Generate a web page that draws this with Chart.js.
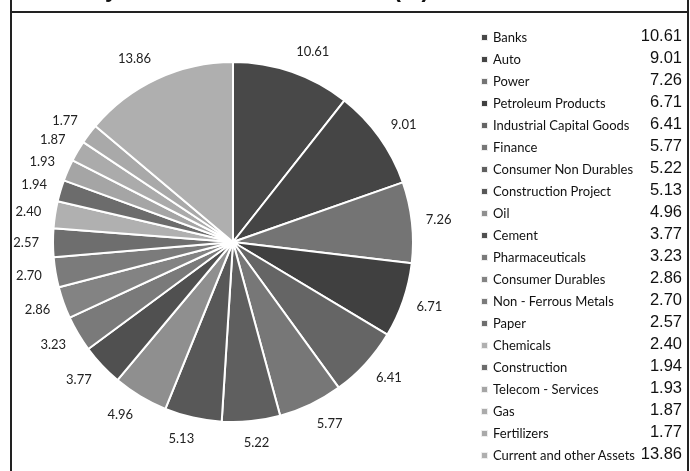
<!DOCTYPE html>
<html>
<head>
<meta charset="utf-8">
<script src="https://cdn.jsdelivr.net/npm/chart.js@4"></script>
<style>
  body { margin: 0; background: #fff; }
  #page { position: relative; width: 690px; height: 471px; overflow: hidden; }
  #chart { position: absolute; left: 0; top: 0; }
  .frame { position: absolute; left: 10px; top: -5px; width: 675px; height: 490px;
           border-left: 2px solid #222; border-right: 2px solid #222; }
  .rule { position: absolute; left: 10px; top: 11px; width: 679px; height: 2px; background: #222; }
  .title { position: absolute; left: 27px; top: -22px; font: bold 23px "Liberation Sans", Arial, sans-serif;
           line-height: 23px; white-space: nowrap; color: #111; }
  #legend { position: absolute; left: 478px; top: 26px; width: 204px; }
  .row { position: relative; height: 22px; }
  .mark { position: absolute; left: 4px; top: 9px; width: 5px; height: 5px; box-shadow: 0 0 0 1px #eee; }
  .name { position: absolute; left: 15px; top: 3px; font: 13px Lato, sans-serif; color: #111; white-space: nowrap; }
  .val { position: absolute; right: 0; top: 0px; font: 16.5px "Liberation Sans", Arial, sans-serif; color: #111; }
</style>
</head>
<body>
<div id="page">
  <canvas id="chart" width="690" height="471"></canvas>
  <div class="title">Industry Allocation of Net Assets (%)</div>
  <div class="frame"></div>
  <div class="rule"></div>
  <div id="legend"></div>
</div>
<script>
const categories = [
  "Banks", "Auto", "Power", "Petroleum Products", "Industrial Capital  Goods",
  "Finance", "Consumer Non Durables", "Construction Project", "Oil", "Cement",
  "Pharmaceuticals", "Consumer Durables", "Non - Ferrous Metals", "Paper", "Chemicals",
  "Construction", "Telecom - Services", "Gas", "Fertilizers", "Current and other Assets"
];
const shares = [
  10.61, 9.01, 7.26, 6.71, 6.41,
  5.77, 5.22, 5.13, 4.96, 3.77,
  3.23, 2.86, 2.70, 2.57, 2.40,
  1.94, 1.93, 1.87, 1.77, 13.86
];
const sliceColors = [
  "#484848", "#454545", "#747474", "#404040", "#656565",
  "#777777", "#5f5f5f", "#585858", "#8f8f8f", "#505050",
  "#7a7a7a", "#838383", "#7b7b7b", "#6e6e6e", "#b0b0b0",
  "#6c6c6c", "#a5a5a5", "#ababab", "#a9a9a9", "#afafaf"
];

// legend on the right, built from the same arrays
const legend = document.getElementById("legend");
categories.forEach((name, i) => {
  const row = document.createElement("div");
  row.className = "row";
  row.innerHTML =
    '<span class="mark" style="background:' + sliceColors[i] + '"></span>' +
    '<span class="name">' + name + '</span>' +
    '<span class="val">' + shares[i].toFixed(2) + '</span>';
  legend.appendChild(row);
});

// value labels just outside each slice
const outsideLabels = {
  id: "outsideLabels",
  afterDatasetsDraw(chart) {
    const c = chart.ctx;
    const arcs = chart.getDatasetMeta(0).data;
    c.save();
    c.font = "13px Lato, sans-serif";
    c.fillStyle = "#222";
    c.textAlign = "center";
    c.textBaseline = "middle";
    arcs.forEach((arc, i) => {
      const a = (arc.startAngle + arc.endAngle) / 2;
      const d = arc.outerRadius + 14;
      const txt = shares[i].toFixed(2);
      const w = c.measureText(txt).width;
      const ux = Math.cos(a), uy = Math.sin(a);
      const sx = Math.max(-1, Math.min(1, ux * 3));
      const x = arc.x + d * ux + (w / 2) * sx;
      const y = arc.y + d * uy + 7.5 * uy;
      c.fillText(txt, x, y);
    });
    c.restore();
  }
};

new Chart(document.getElementById("chart"), {
  type: "pie",
  data: {
    labels: categories,
    datasets: [{
      data: shares,
      backgroundColor: sliceColors,
      borderColor: "#ffffff",
      borderWidth: 2
    }]
  },
  options: {
    responsive: false,
    animation: false,
    layout: { padding: { left: 52, top: 61, right: 276, bottom: 48 } },
    plugins: {
      legend: { display: false },
      tooltip: { enabled: false }
    }
  },
  plugins: [outsideLabels]
});
</script>
</body>
</html>
